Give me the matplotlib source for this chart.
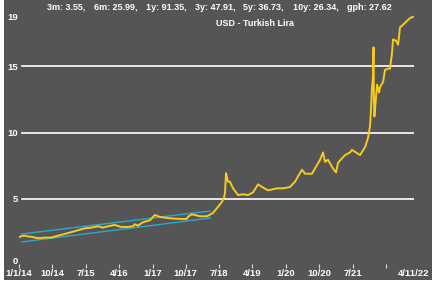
import pandas as pd
import matplotlib
matplotlib.use("Agg")
import matplotlib.pyplot as plt
from matplotlib.patches import Rectangle

# USD/TRY readings (date, rate)
dates = [
    "2014-01-02", "2014-02-11", "2014-03-08", "2014-04-17", "2014-06-06", "2014-08-02",
    "2014-09-21", "2014-12-12", "2015-03-04", "2015-04-30", "2015-06-27", "2015-08-23",
    "2015-10-11", "2015-11-21", "2016-01-01", "2016-02-27", "2016-04-16", "2016-06-13",
    "2016-07-24", "2016-08-09", "2016-09-03", "2016-10-14", "2016-12-11", "2017-01-20",
    "2017-03-02", "2017-05-23", "2017-08-14", "2017-10-10", "2017-10-18", "2017-11-20",
    "2018-01-26", "2018-03-24", "2018-05-12", "2018-06-22", "2018-07-25", "2018-08-11",
    "2018-08-19", "2018-08-27", "2018-09-12", "2018-09-28", "2018-10-24", "2018-12-04",
    "2019-01-14", "2019-02-24", "2019-04-06", "2019-05-17", "2019-06-19", "2019-08-07",
    "2019-10-20", "2019-12-08", "2020-02-03", "2020-03-15", "2020-04-25", "2020-05-12",
    "2020-06-06", "2020-08-02", "2020-08-27", "2020-10-07", "2020-10-31", "2020-11-17",
    "2020-12-11", "2021-01-21", "2021-02-15", "2021-03-03", "2021-03-20", "2021-04-30",
    "2021-06-10", "2021-06-26", "2021-07-29", "2021-08-31", "2021-10-11", "2021-11-05",
    "2021-11-21", "2021-11-29", "2021-12-07", "2021-12-14", "2021-12-20", "2021-12-23",
    "2021-12-27", "2022-01-18", "2022-02-03", "2022-02-11", "2022-03-08", "2022-03-24",
    "2022-04-18", "2022-05-04", "2022-05-21", "2022-05-29", "2022-06-22", "2022-07-09",
    "2022-07-17", "2022-07-25", "2022-08-19", "2022-09-21", "2022-10-15", "2022-11-09",
]
rates = [
    2.15, 2.25, 2.20, 2.15, 2.05, 2.10,
    2.10, 2.30, 2.50, 2.65, 2.80, 2.85,
    2.95, 2.85, 2.95, 3.05, 2.90, 2.90,
    2.95, 3.10, 3.00, 3.25, 3.40, 3.80,
    3.65, 3.55, 3.50, 3.50, 3.65, 3.85,
    3.70, 3.70, 3.95, 4.40, 4.80, 5.10,
    5.50, 6.95, 6.30, 6.30, 5.80, 5.30,
    5.35, 5.30, 5.50, 6.10, 5.90, 5.65,
    5.80, 5.80, 5.90, 6.30, 6.95, 7.20,
    6.90, 6.90, 7.30, 7.95, 8.50, 7.80,
    7.95, 7.30, 7.00, 7.70, 7.90, 8.30,
    8.50, 8.70, 8.50, 8.30, 8.90, 9.60,
    10.50, 11.70, 13.40, 14.00, 16.40, 12.40,
    11.20, 13.60, 13.00, 13.40, 13.80, 14.70,
    14.80, 14.80, 16.00, 17.00, 16.90, 16.60,
    17.20, 17.90, 18.10, 18.40, 18.60, 18.70,
]

# trend channel (start/end dates, upper and lower band values)
channel_dates = ["2014-01-25", "2018-04-20"]
channel_upper = [2.37, 4.10]
channel_lower = [1.77, 3.57]

stat_names = ["3m", "6m", "1y", "3y", "5y", "10y", "gph"]
stat_values = [3.55, 25.99, 91.35, 47.91, 36.73, 26.34, 27.62]
title = "USD - Turkish Lira"

tick_dates = ["2014-01-01", "2014-10-01", "2015-07-01", "2016-04-01", "2017-01-01",
              "2017-10-01", "2018-07-01", "2019-04-01", "2020-01-01", "2020-10-01",
              "2021-07-01", "2022-04-01"]
tick_labels = ["1/1/14", "10/14", "7/15", "4/16", "1/17", "10/17", "7/18", "4/19",
               "1/20", "10/20", "7/21", ""]
end_label = "4/11/22"
y_ticks = [0, 5, 10, 15, 19]
grid_levels = [5, 10, 15]

BG = "#555555"
W, H = 443, 282
plt.rcParams["font.family"] = ["Liberation Sans", "DejaVu Sans"]
plt.rcParams["font.weight"] = "bold"

fig = plt.figure(figsize=(W / 100, H / 100), dpi=100, facecolor="white")
fig.add_artist(Rectangle((4 / W, 2 / H), 428 / W, 280 / H, transform=fig.transFigure,
                         facecolor=BG, edgecolor="none", zorder=-10))

ax = fig.add_axes([19 / W, (H - 265.5) / H, 395 / W, 252.7 / H])
ax.set_facecolor(BG)
ax.set_zorder(1)
for s in ax.spines.values():
    s.set_visible(False)

x = pd.to_datetime(dates)
ax.set_xlim(pd.Timestamp("2014-01-01"), pd.Timestamp("2022-11-17"))
ax.set_ylim(0, 19)

for lv in grid_levels:
    ax.axhline(lv, xmin=3 / 395, xmax=1.0, color="white", lw=1.2, zorder=1)

cx = pd.to_datetime(channel_dates)
ax.plot(cx, channel_upper, color="#29A9CF", lw=1.0, zorder=2)
ax.plot(cx, channel_lower, color="#29A9CF", lw=1.0, zorder=2)
ax.plot(x, rates, color="#F7CB1E", lw=1.4, zorder=3)

ax.set_xticks(pd.to_datetime(tick_dates))
ax.set_xticklabels(tick_labels)
ax.tick_params(axis="x", direction="inout", length=3, width=0.8, color="#dddddd",
               labelsize=6.8, labelcolor="white", pad=1)
ax.set_yticks(y_ticks)
ax.set_yticklabels([str(v) for v in y_ticks])
ax.tick_params(axis="y", length=0, labelsize=6.8, labelcolor="white", pad=1)
ylabs = ax.get_yticklabels()
ylabs[0].set_va("bottom")
ylabs[-1].set_va("top")

ax.text(1.0, -0.012, end_label, transform=ax.transAxes, ha="center", va="top",
        fontsize=6.8, color="white")

# header stats
stat_left_px = [47, 94, 146, 195, 243, 293, 347]
for i, (n, v) in enumerate(zip(stat_names, stat_values)):
    sep = "," if i < len(stat_names) - 1 else ""
    fig.text(stat_left_px[i] / W, 1 - 7 / H, f"{n}: {v:.2f}{sep}", ha="left", va="center",
             fontsize=6.5, color="white", zorder=5)
fig.text(255 / W, 1 - 23 / H, title, ha="center", va="center", fontsize=6.5, color="white",
         zorder=5)

fig.savefig("out.png", dpi=100, facecolor="white")
